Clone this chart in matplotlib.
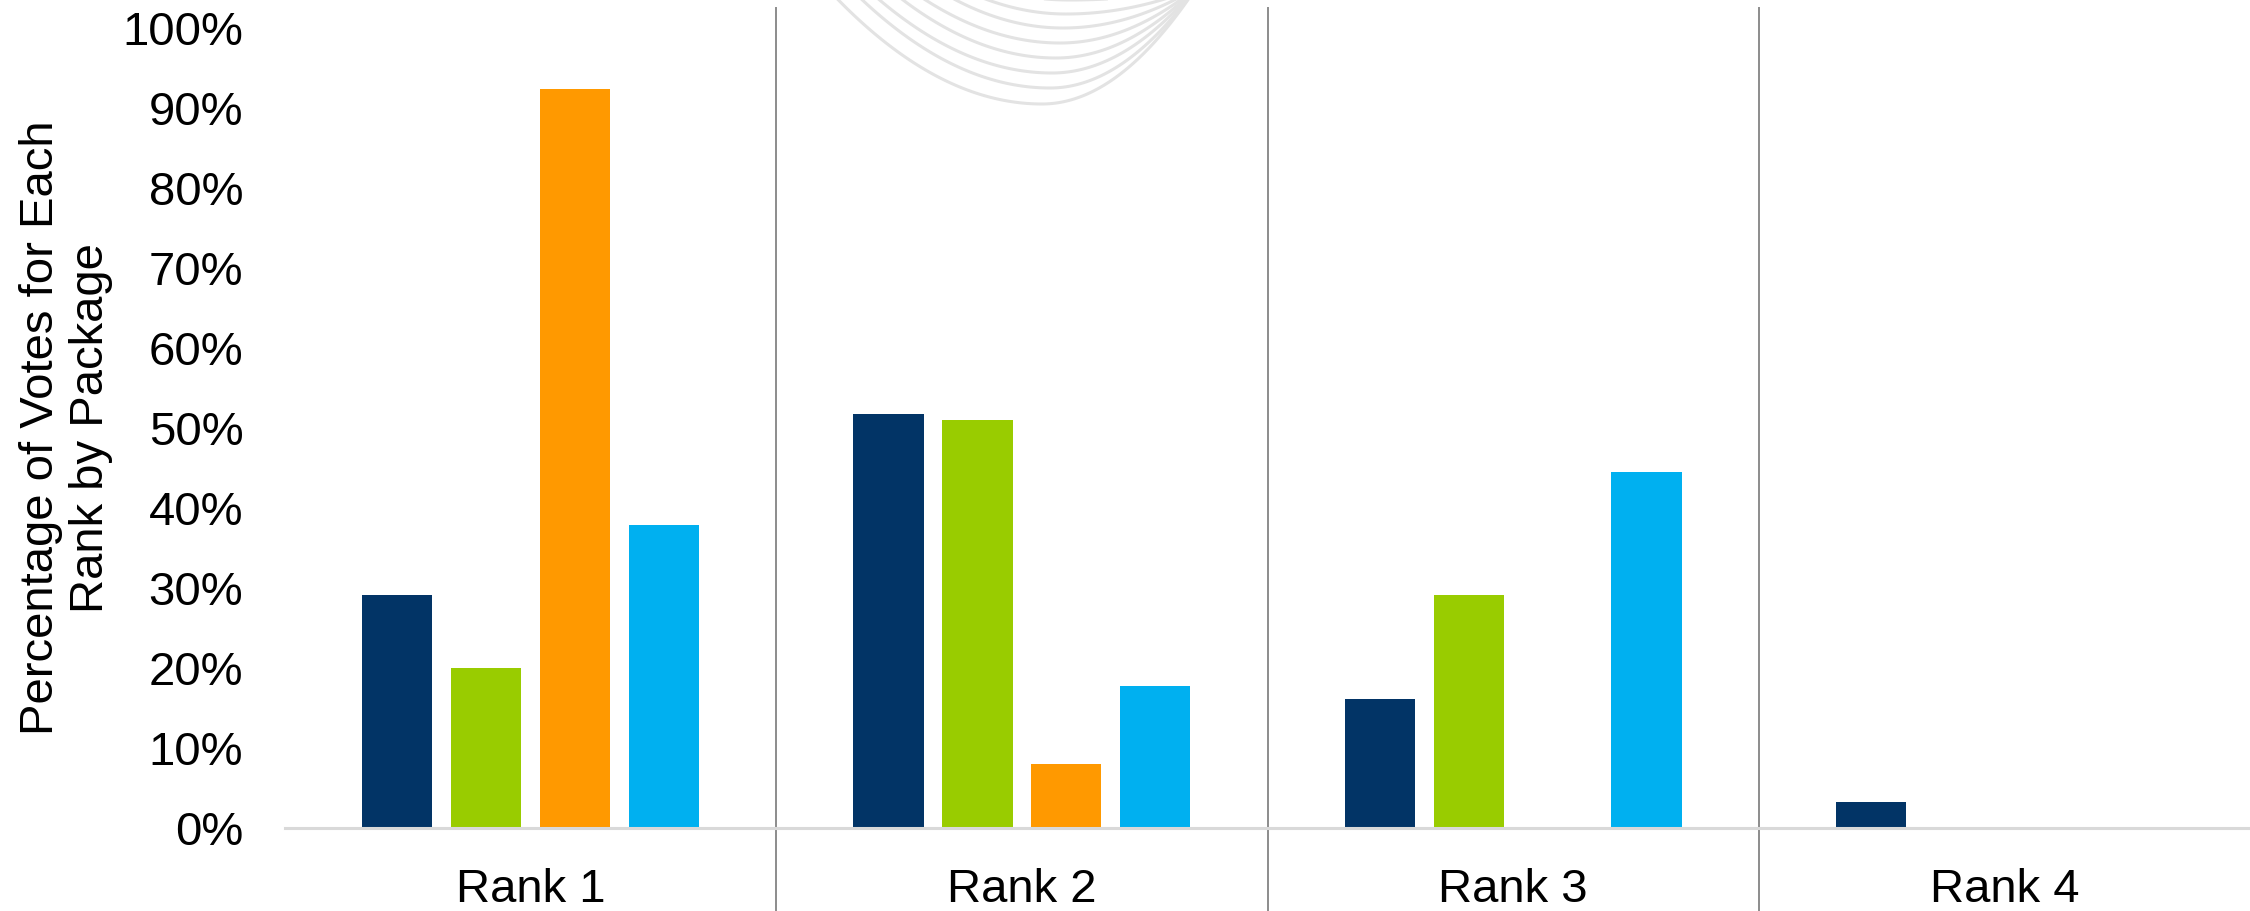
import numpy as np
import matplotlib
matplotlib.use("Agg")
from matplotlib import pyplot as plt
from matplotlib.ticker import PercentFormatter

plt.rcParams['font.family'] = ['Liberation Sans', 'DejaVu Sans']

ranks = ["Rank 1", "Rank 2", "Rank 3", "Rank 4"]

# percentage of votes per package (no legend on the original slide)
pkg_navy = [29.1, 51.7, 16.1, 3.2]
pkg_green = [20.0, 51.0, 29.1, 0.0]
pkg_orange = [92.4, 8.0, 0.0, 0.0]
pkg_blue = [37.9, 17.7, 44.5, 0.0]

colors = ["#023466", "#99cc00", "#ff9900", "#00b0f0"]
series = [pkg_navy, pkg_green, pkg_orange, pkg_blue]

W, H = 2250, 911
fig = plt.figure(figsize=(W / 100, H / 100), dpi=100)

# faint background arcs from the slide template (pixel coords, y down)
arc_left = [827, 850, 866, 888, 908, 935, 960, 985]
arc_bottom_x = [1042, 1050, 1052, 1056, 1060, 1063, 1066, 1070]
arc_bottom_y = [104, 88, 73, 58, 43, 28, 14, 0]
arc_right = 1196
for xl, xb, yb in zip(arc_left, arc_bottom_x, arc_bottom_y):
    top = -12
    xs1 = np.linspace(xl - 15, xb, 60)
    ys1 = yb - (yb - top) * ((xs1 - xb) / (xl - xb)) ** 2
    xs2 = np.linspace(xb, arc_right + 5, 60)
    ys2 = yb - (yb - top) * ((xs2 - xb) / (arc_right - xb)) ** 2
    xs = np.concatenate([xs1, xs2])
    ys = np.concatenate([ys1, ys2])
    fig.add_artist(plt.Line2D(xs / W, 1 - ys / H, color="#e3e3e3", lw=2.2,
                              transform=fig.transFigure, zorder=0))

ax = fig.add_axes([285 / W, 1 - 828 / H, 1 - 285 / W, 800 / H])
ax.patch.set_alpha(0)

x = np.arange(len(ranks))
width = 0.143
step = 0.181
for i, (vals, col) in enumerate(zip(series, colors)):
    ax.bar(x + (i - 1.5) * step, vals, width, color=col, zorder=3)

ax.set_xlim(-0.5, 3.5)
ax.set_ylim(0, 100)
ax.set_yticks(np.arange(0, 101, 10))
ax.yaxis.set_major_formatter(PercentFormatter(decimals=0))
ax.set_xticks(x)
ax.set_xticklabels(ranks)
ax.tick_params(axis="y", length=0, pad=30, labelsize=34)
ax.tick_params(axis="x", length=0, pad=29, labelsize=34)

for s in ["top", "right", "left"]:
    ax.spines[s].set_visible(False)
ax.spines["bottom"].set_color("#d9d9d9")
ax.spines["bottom"].set_linewidth(2.2)
ax.spines["bottom"].set_zorder(4)

# category separators, running above and below the plot area
for b in [0.5, 1.5, 2.5]:
    ax.axvline(b, ymin=-0.11, ymax=(828 - 8) / 800, clip_on=False,
               color="#8c8c8c", lw=1.4, zorder=2)

fig.text(66 / W, 1 - 428 / H, "Percentage of Votes for Each\nRank by Package",
         rotation=90, ha="center", va="center", multialignment="center",
         fontsize=34)

fig.savefig("out.png", dpi=100)
